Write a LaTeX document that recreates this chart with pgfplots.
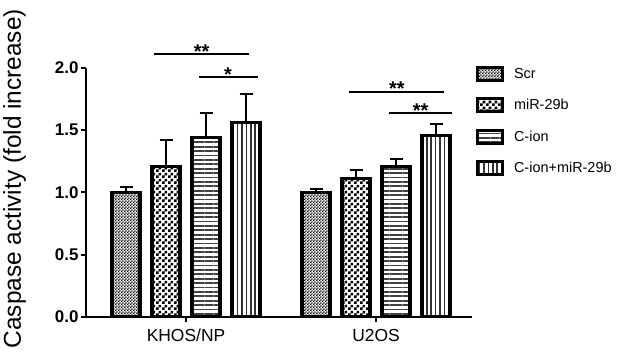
\documentclass[border=0pt]{standalone}
\usepackage{pgfplots}
\pgfplotsset{compat=1.18}
\usepackage{fontspec}
\setmainfont{Liberation Sans}
\usetikzlibrary{patterns,patterns.meta}
\pgfdeclarepatternformonly{finecheck}{\pgfpointorigin}{\pgfpoint{3.2bp}{3.2bp}}{\pgfpoint{3.2bp}{3.2bp}}{%
  \pgfpathrectangle{\pgfpointorigin}{\pgfpoint{1.6bp}{1.6bp}}%
  \pgfpathrectangle{\pgfpoint{1.6bp}{1.6bp}}{\pgfpoint{1.6bp}{1.6bp}}%
  \pgfusepath{fill}}
\pgfdeclarepatternformonly{coarsecheck}{\pgfpointorigin}{\pgfpoint{6bp}{6bp}}{\pgfpoint{6bp}{6bp}}{%
  \pgfpathrectangle{\pgfpointorigin}{\pgfpoint{3bp}{3bp}}%
  \pgfpathrectangle{\pgfpoint{3bp}{3bp}}{\pgfpoint{3bp}{3bp}}%
  \pgfusepath{fill}}
\begin{document}
\begin{tikzpicture}
\useasboundingbox (-86bp,-41.3bp) rectangle (532bp,316.7bp);
\begin{axis}[
  at={(0,0)}, anchor=south west,
  scale only axis, width=386bp, height=248.7bp,
  xmin=0.4737, xmax=2.505, ymin=0, ymax=2.0,
  axis x line=bottom, axis y line=left,
  axis line style={line width=2bp, -},
  xtick={1,2}, xticklabels={KHOS/NP,U2OS},
  ytick={0,0.5,1,1.5,2},
  yticklabel={\bfseries\pgfmathprintnumber[fixed,fixed zerofill,precision=1,assume math mode=true]{\tick}},
  y tick label style={font=\fontsize{17}{19}\selectfont, text=black, xshift=1bp},
  x tick label style={font=\fontsize{17.5}{19}\selectfont, text=black, yshift=-4bp},
  tick align=outside, major tick length=5bp,
  tick style={line width=2bp, black},
  clip=false,
  ybar, bar width=0.147,
  legend style={draw=none, at={(1.01,1.01)}, anchor=north west, font=\fontsize{14.5}{16}\selectfont,
     row sep=15.5bp, inner sep=0pt, cells={anchor=west},
     nodes={inner xsep=10bp}},
  legend image code/.code={\draw[#1, line width=3bp] (0bp,-6.5bp) rectangle (25bp,6.5bp);},
  error bars/y dir=plus, error bars/y explicit,
  error bars/error bar style={line width=2.2bp, black, solid},
  error bars/error mark options={rotate=90, mark size=6.5bp, line width=2.2bp, black},
]
\addplot[draw=black, line width=3.2bp, bar shift=-0.3158, pattern=finecheck, pattern color=black] coordinates {(1,1.00) +- (0,0.04) (2,1.00) +- (0,0.03)};
\addplot[draw=black, line width=3.2bp, bar shift=-0.1053, pattern=coarsecheck, pattern color=black] coordinates {(1,1.21) +- (0,0.21) (2,1.11) +- (0,0.07)};
\addplot[draw=black, line width=3.2bp, bar shift=0.1053, pattern={Lines[angle=0,distance=4.4bp,line width=1.8bp]}, pattern color=black!75] coordinates {(1,1.44) +- (0,0.20) (2,1.21) +- (0,0.06)};
\addplot[draw=black, line width=3.2bp, bar shift=0.3158, pattern={Lines[angle=90,distance=4.4bp,line width=1.5bp]}, pattern color=black!80] coordinates {(1,1.56) +- (0,0.23) (2,1.46) +- (0,0.09)};
\legend{Scr,miR-29b,C-ion,C-ion+miR-29b}
\draw[line width=2bp] (axis cs:0.8316,2.116) -- (axis cs:1.3316,2.116);
\draw[line width=2bp] (axis cs:1.0684,1.93) -- (axis cs:1.3789,1.93);
\draw[line width=2bp] (axis cs:1.858,1.81) -- (axis cs:2.358,1.81);
\draw[line width=2bp] (axis cs:2.068,1.635) -- (axis cs:2.400,1.635);
\node[font=\fontsize{20}{20}\selectfont\bfseries] at (axis cs:1.082,2.135) {**};
\node[font=\fontsize{20}{20}\selectfont\bfseries] at (axis cs:1.221,1.95) {*};
\node[font=\fontsize{20}{20}\selectfont\bfseries] at (axis cs:2.109,1.83) {**};
\node[font=\fontsize{20}{20}\selectfont\bfseries] at (axis cs:2.235,1.655) {**};
\end{axis}
\node[rotate=90, anchor=base, font=\fontsize{24.5}{26}\selectfont] at (-65bp,138bp) {Caspase activity (fold increase)};
\end{tikzpicture}
\end{document}
